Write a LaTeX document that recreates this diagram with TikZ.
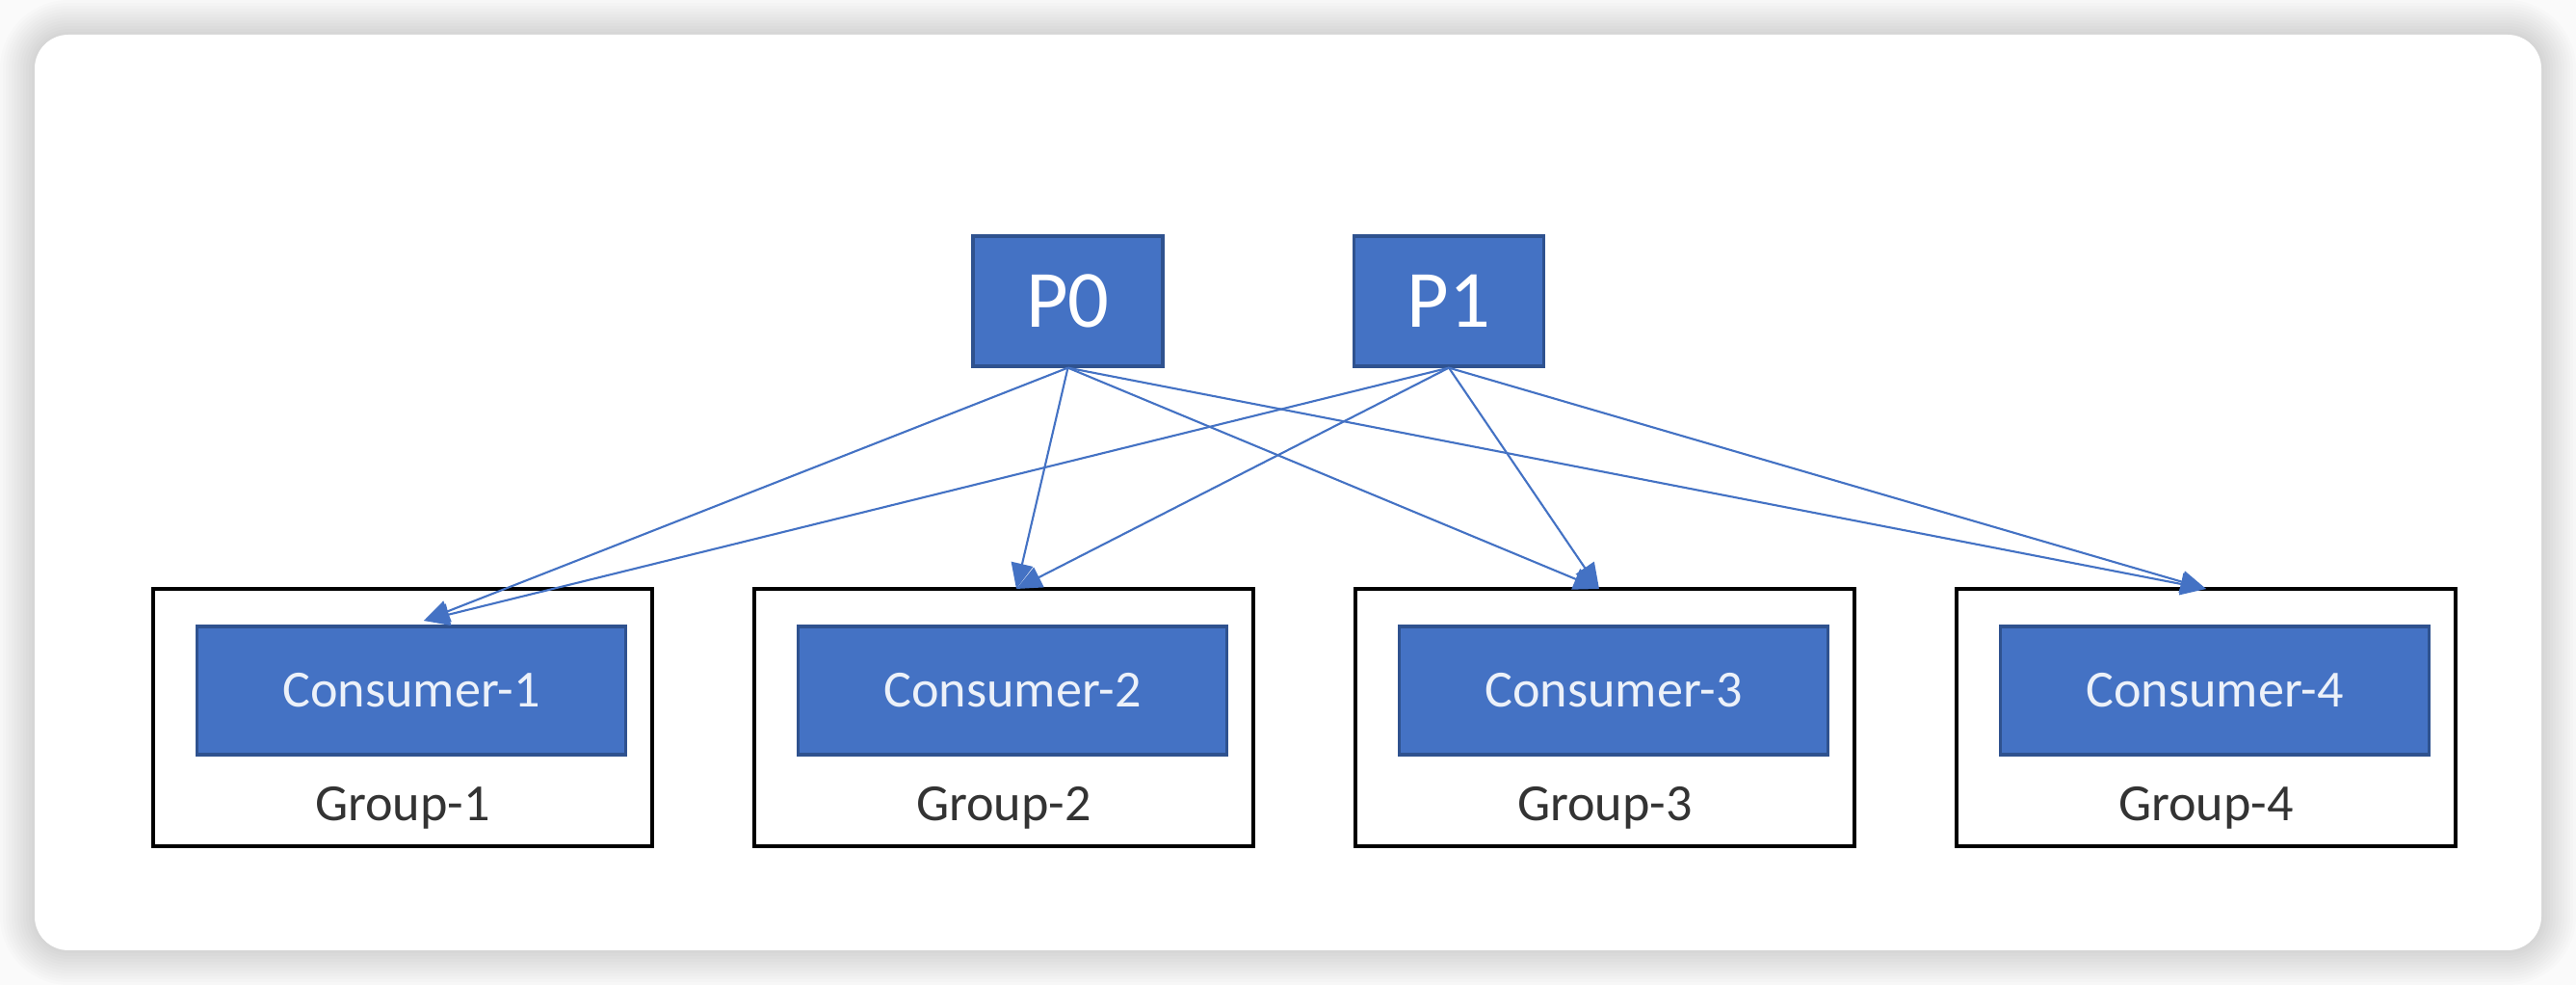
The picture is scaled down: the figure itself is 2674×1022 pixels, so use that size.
\documentclass[tikz,border=0pt]{standalone}
\usepackage{fontspec}
\setmainfont{Carlito}
\usetikzlibrary{arrows.meta}
\definecolor{pblue}{HTML}{4472C4}
\definecolor{pedge}{HTML}{2F528F}
\tikzset{
  pbox/.style={draw=pedge,line width=0.9pt,fill=pblue,text=white,minimum width=1.97cm,minimum height=1.35cm,inner sep=0pt,font=\fontsize{24}{28}\selectfont},
  cbox/.style={draw=pedge,line width=0.9pt,fill=pblue,text=white!90!pblue,minimum width=4.45cm,minimum height=1.33cm,inner sep=0pt,font=\fontsize{15.4}{18}\selectfont},
  gbox/.style={draw=black,line width=1.2pt,minimum width=5.18cm,minimum height=2.67cm,inner sep=0pt},
  glabel/.style={text=black!80,inner sep=0pt,font=\fontsize{15.4}{18}\selectfont},
  feed/.style={pblue,line width=0.6pt,-{Triangle[length=7.5pt,width=6.5pt]}}
}
\begin{document}
\begin{tikzpicture}[x=0.01cm,y=-0.01cm]
\useasboundingbox (0,0) rectangle (2674,1022);
\fill[black!2] (0,0) rectangle (2674,1022);
\foreach \s in {1,...,12}{
  \pgfmathsetmacro\rr{0.35+0.03*\s}
  \fill[black,opacity=0.011,rounded corners=\rr cm] (36-3*\s,36-3*\s) rectangle (2638+3*\s,986+3*\s);
}
\fill[white,rounded corners=0.35cm] (36,36) rectangle (2638,986);
\node[pbox] (p0) at (1108.5,312.5) {P0};
\node[pbox] (p1) at (1504,312.5) {P1};
\foreach \i/\x in {1/418,2/1042,3/1666,4/2290}{
  \node[gbox] (g\i) at (\x,744.5) {};
  \node[cbox] (c\i) at (\x+9,716.5) {Consumer-\i};
  \node[glabel] (l\i) at (\x,838) {Group-\i};
}
\coordinate (t1) at (440,644);
\coordinate (t2) at (1055,611);
\coordinate (t3) at (1660,611);
\coordinate (t4) at (2290,611);
\foreach \p in {p0,p1}
  \foreach \t in {t1,t2,t3,t4}
    \draw[feed] (\p.south) -- (\t);
\end{tikzpicture}
\end{document}
